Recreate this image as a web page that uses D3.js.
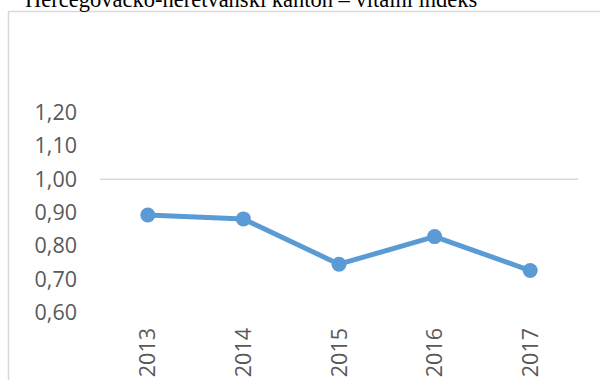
<!DOCTYPE html>
<html>
<head>
<meta charset="utf-8">
<script src="https://cdn.jsdelivr.net/npm/d3@7"></script>
<style>
  html, body { margin: 0; padding: 0; background: #fff; }
  svg { display: block; }
</style>
</head>
<body>
<svg id="chart" width="600" height="380"></svg>
<script>
// Vitalni indeks po godinama
const years = ["2013", "2014", "2015", "2016", "2017"];
const vitalIndex = [0.893, 0.881, 0.745, 0.828, 0.726];
const yTicks = [0.6, 0.7, 0.8, 0.9, 1.0, 1.1, 1.2];
const gridValues = [1.0];
const titleText = "Hercegovačko-neretvanski kanton – vitalni indeks";

const svg = d3.select("#chart");
const W = 600, H = 380;

const hr = d3.formatLocale({ decimal: ",", thousands: ".", grouping: [3], currency: ["", " KM"] });
const fmt = hr.format(".2f");

const x = d3.scaleBand().domain(years).range([100, 578]);
const y = d3.scaleLinear().domain([0.6, 1.2]).range([312.5, 112.7]);

// chart frame
svg.append("path")
  .attr("d", `M8.5,${H} V11.5 H${W}`)
  .attr("fill", "none")
  .attr("stroke", "#d9d9d9")
  .attr("stroke-width", 1.5);

// title (sits partly above the top edge)
svg.append("text")
  .attr("x", 25)
  .attr("y", 7)
  .attr("font-family", "'Liberation Serif', 'Times New Roman', serif")
  .attr("font-size", 22.5)
  .attr("fill", "#000")
  .text(titleText);

// horizontal gridline
svg.append("g").selectAll("line")
  .data(gridValues)
  .join("line")
  .attr("x1", x.range()[0])
  .attr("x2", x.range()[1])
  .attr("y1", d => y(d))
  .attr("y2", d => y(d))
  .attr("stroke", "#d9d9d9")
  .attr("stroke-width", 1.5);

// y axis labels
const yAxis = svg.append("g")
  .attr("transform", "translate(77,0)")
  .call(d3.axisLeft(y).tickValues(yTicks).tickFormat(fmt).tickSize(0).tickPadding(0));
yAxis.select(".domain").remove();
yAxis.selectAll("text")
  .attr("font-family", "'Open Sans', sans-serif")
  .attr("font-size", 21.5)
  .attr("fill", "#595959");

// x axis labels (rotated)
svg.append("g").selectAll("text")
  .data(years)
  .join("text")
  .attr("transform", d => `translate(${x(d) + x.bandwidth() / 2},328) rotate(-90)`)
  .attr("text-anchor", "end")
  .attr("dy", "0.35em")
  .attr("font-family", "'Open Sans', sans-serif")
  .attr("font-size", 21.5)
  .attr("fill", "#595959")
  .text(d => d);

// line and markers
const pts = years.map((yr, i) => ({ yr, v: vitalIndex[i] }));
const line = d3.line()
  .x(d => x(d.yr) + x.bandwidth() / 2)
  .y(d => y(d.v));

svg.append("path")
  .datum(pts)
  .attr("d", line)
  .attr("fill", "none")
  .attr("stroke", "#5b9bd5")
  .attr("stroke-width", 5)
  .attr("stroke-linejoin", "round")
  .attr("stroke-linecap", "round");

svg.append("g").selectAll("circle")
  .data(pts)
  .join("circle")
  .attr("cx", d => x(d.yr) + x.bandwidth() / 2)
  .attr("cy", d => y(d.v))
  .attr("r", 7.5)
  .attr("fill", "#5b9bd5");
</script>
</body>
</html>
